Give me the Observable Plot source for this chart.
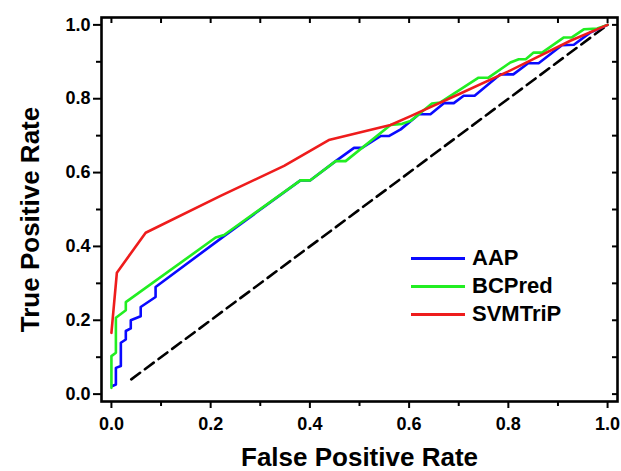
<!DOCTYPE html>
<html><head><meta charset="utf-8">
<script src="https://cdn.jsdelivr.net/npm/d3@7"></script>
<script src="https://cdn.jsdelivr.net/npm/@observablehq/plot@0.6"></script>
<style>
body{margin:0;background:#fff;}
#wrap{position:relative;width:621px;height:471px;}
#legend{position:absolute;left:411px;top:244px;font:bold 22px "Liberation Sans",Arial,sans-serif;color:#000;line-height:28px;}
.row{display:flex;align-items:center;height:28px;}
.sw{width:54px;height:3px;margin-right:7px;}
</style></head>
<body><div id="wrap"></div>
<script>
// Series names and colours
const seriesNames = ["AAP", "BCPred", "SVMTriP"];
const seriesColors = ["#0a0aff", "#22ee22", "#ee1c1c"];

// AAP (blue)
const aapFpr = [0.002,0.009,0.009,0.019,0.019,0.029,0.029,0.039,0.039,0.059,0.059,0.089,0.089,0.227,0.381,0.401,0.452,0.489,0.505,0.543,0.559,0.583,0.620,0.643,0.670,0.690,0.710,0.732,0.784,0.810,0.840,0.861,0.908,0.932,0.965,1.0];
const aapTpr = [0.022,0.026,0.071,0.076,0.139,0.148,0.171,0.178,0.200,0.211,0.236,0.263,0.290,0.428,0.579,0.579,0.631,0.667,0.667,0.699,0.699,0.717,0.758,0.758,0.788,0.788,0.808,0.808,0.866,0.866,0.896,0.896,0.945,0.946,0.979,1.0];

// BCPred (green)
const bcFpr = [0.0,0.0,0.009,0.009,0.029,0.029,0.210,0.227,0.381,0.401,0.452,0.472,0.5625,0.586,0.603,0.646,0.663,0.740,0.760,0.804,0.821,0.835,0.851,0.868,0.912,0.928,0.952,0.979,1.0];
const bcTpr = [0.017,0.103,0.112,0.207,0.227,0.249,0.424,0.431,0.579,0.579,0.631,0.631,0.729,0.732,0.740,0.787,0.790,0.857,0.857,0.898,0.907,0.907,0.925,0.925,0.966,0.966,0.988,0.990,1.0];

// SVMTriP (red)
const svmFpr = [0.0,0.011,0.069,0.22,0.348,0.438,0.5625,0.603,0.70,0.80,0.925,1.0];
const svmTpr = [0.166,0.329,0.437,0.537,0.618,0.688,0.729,0.753,0.812,0.874,0.957,1.0];

// Random-guess diagonal
const diagFpr = [0.04, 1.0];
const diagTpr = [0.04, 1.0];

// Ticks
const majorTicks = [0, 0.2, 0.4, 0.6, 0.8, 1.0];
const minorTicks = [0.1, 0.3, 0.5, 0.7, 0.9];
const allTicks = [0, 0.1, 0.2, 0.3, 0.4, 0.5, 0.6, 0.7, 0.8, 0.9, 1.0];

const series = [
  {name: seriesNames[0], fpr: aapFpr, tpr: aapTpr},
  {name: seriesNames[1], fpr: bcFpr, tpr: bcTpr},
  {name: seriesNames[2], fpr: svmFpr, tpr: svmTpr}
];
const rows = series.flatMap(s => s.fpr.map((f, i) => ({series: s.name, fpr: f, tpr: s.tpr[i]})));
const diag = diagFpr.map((f, i) => ({fpr: f, tpr: diagTpr[i]}));

const W = 621, H = 471, mT = 17, mB = 70, mL = 101, mR = 4;
const innerW = W - mL - mR, innerH = H - mT - mB;
const fmt = d3.format(".1f");

const chart = Plot.plot({
  width: W, height: H,
  marginTop: mT, marginBottom: mB, marginLeft: mL, marginRight: mR,
  style: {fontFamily: "'Liberation Sans', Arial, sans-serif", fontWeight: "bold", fontSize: "18px", color: "#000", background: "#fff"},
  x: {domain: [-0.02, 1.02]},
  y: {domain: [-0.02, 1.02]},
  color: {domain: seriesNames, range: seriesColors},
  marks: [
    Plot.line(diag, {x: "fpr", y: "tpr", stroke: "black", strokeWidth: 2.6, strokeDasharray: "11,6"}),
    Plot.line(rows, {x: "fpr", y: "tpr", z: "series", stroke: "series", strokeWidth: 2.6}),
    Plot.frame({stroke: "black", strokeWidth: 2.6}),
    Plot.axisX({ticks: majorTicks, tickSize: 7, tickPadding: 9, tickFormat: fmt, label: null, strokeWidth: 2, fontSize: 18}),
    Plot.axisX({ticks: minorTicks, tickSize: 5, tickFormat: () => "", label: null, strokeWidth: 2}),
    Plot.axisY({ticks: majorTicks, tickSize: 8, tickPadding: 3, tickFormat: fmt, label: null, strokeWidth: 2, fontSize: 18}),
    Plot.axisY({ticks: minorTicks, tickSize: 5, tickFormat: () => "", label: null, strokeWidth: 2}),
    Plot.tickX(allTicks, {x: d => d, insetBottom: innerH - 6, stroke: "black", strokeWidth: 2}),
    Plot.tickY(allTicks, {y: d => d, insetLeft: innerW - 5, stroke: "black", strokeWidth: 2}),
    Plot.text(["False Positive Rate"], {frameAnchor: "bottom", textAnchor: "middle", lineAnchor: "middle", dy: 56, fontSize: 26, fontWeight: "bold", fill: "black"}),
    Plot.text(["True Positive Rate"], {frameAnchor: "left", textAnchor: "middle", lineAnchor: "middle", dx: -71, dy: 10, rotate: -90, fontSize: 26, fontWeight: "bold", fill: "black"})
  ]
});

const wrap = document.getElementById("wrap");
wrap.appendChild(chart);
const legend = document.createElement("div");
legend.id = "legend";
seriesNames.forEach((n, i) => {
  const row = document.createElement("div");
  row.className = "row";
  const sw = document.createElement("div");
  sw.className = "sw";
  sw.style.background = seriesColors[i];
  const t = document.createElement("span");
  t.textContent = n;
  row.appendChild(sw); row.appendChild(t);
  legend.appendChild(row);
});
wrap.appendChild(legend);
</script>
</body></html>
